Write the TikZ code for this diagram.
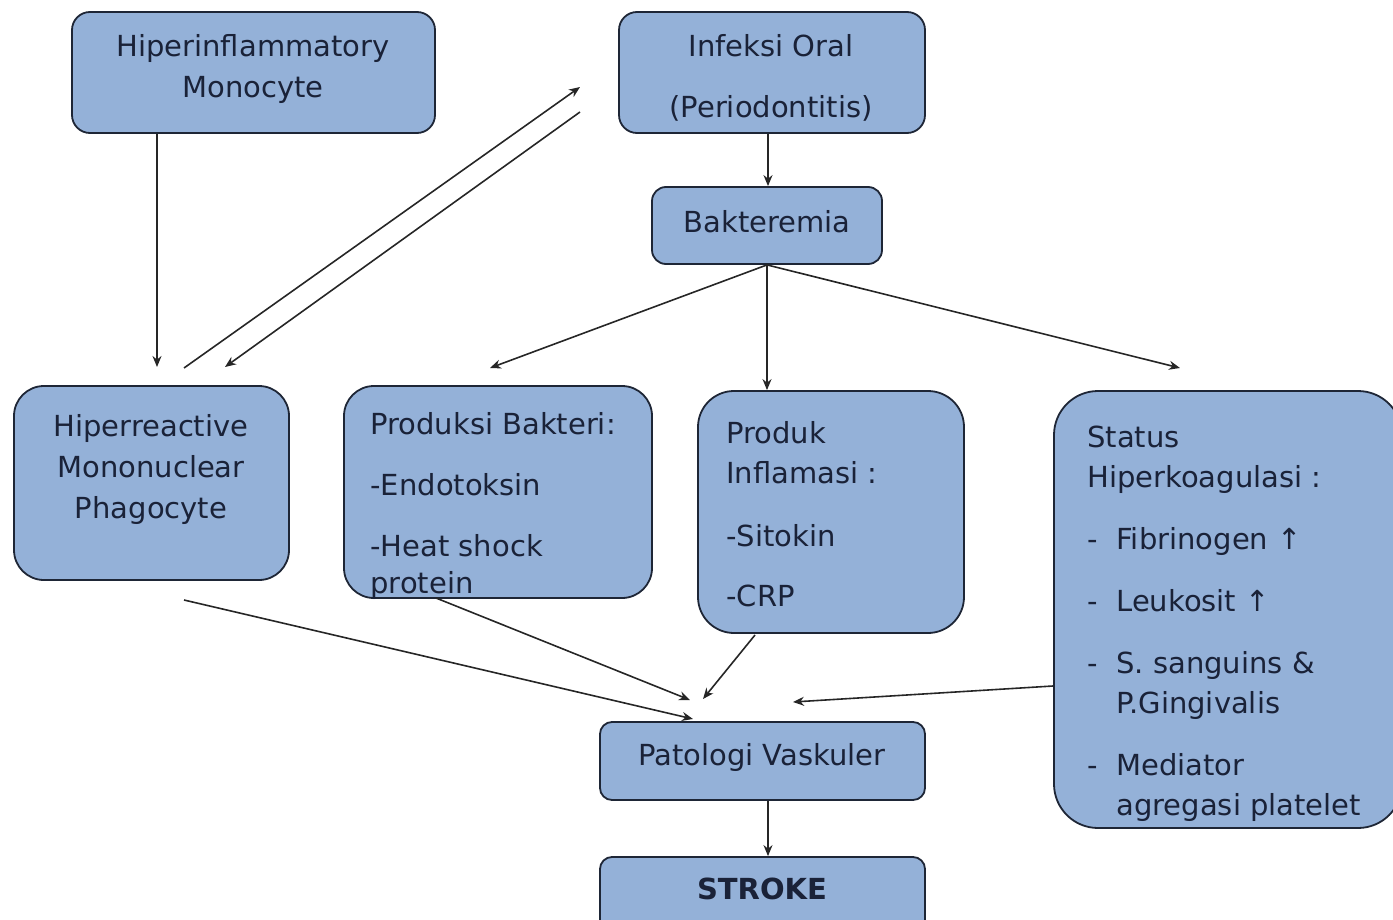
\documentclass[tikz,border=0pt]{standalone}
\usepackage{fontspec}
\setmainfont{DejaVu Sans}
\usepackage{xcolor}
\usepackage{tikz}
\usetikzlibrary{arrows.meta,positioning}
\definecolor{boxfill}{RGB}{148,177,216}
\definecolor{boxline}{RGB}{30,38,54}
\definecolor{textnavy}{RGB}{26,34,56}

\begin{document}
\begin{tikzpicture}[
    x=0.5pt, y=-0.5pt,%一个单位等于原图一个像素
    box/.style={
        % The shape:
        rectangle,
        rounded corners=8pt,
        inner sep=0pt,
        % The fill
        line width=0.9pt,
        draw=boxline,
        fill=boxfill},
    txt/.style={
        inner sep=0pt,
        text=textnavy,
        font=\fontsize{14.5}{20}\selectfont},
    arr/.style={
        line width=0.8pt,
        draw=black!85,
        -{Stealth[length=5.5pt,width=4.5pt]}}]
  \useasboundingbox (0,0) rectangle (1393,920);
  %绘制方框
  \node (hm) [box,minimum width=181.5pt,minimum height=60.5pt,rounded corners=9pt] at (253.5,72.5) {};
  \node (io) [box,minimum width=153pt,minimum height=60.5pt,rounded corners=9pt] at (772,72.5) {};
  \node (bk) [box,minimum width=115pt,minimum height=38.5pt,rounded corners=7pt] at (767,225.5) {};
  \node (hr) [box,minimum width=137.5pt,minimum height=97pt,rounded corners=15pt] at (151.5,483) {};
  \node (pb) [box,minimum width=154pt,minimum height=106pt,rounded corners=15pt] at (498,492) {};
  \node (pi) [box,minimum width=133pt,minimum height=121pt,rounded corners=18pt] at (831,512) {};
  \node (sh) [box,minimum width=174pt,minimum height=218.5pt,rounded corners=22pt] at (1228,609.5) {};
  \node (pv) [box,minimum width=162.5pt,minimum height=39pt,rounded corners=6pt] at (762.5,761) {};
  \node (st) [box,minimum width=162.5pt,minimum height=39pt,rounded corners=6pt] at (762.5,896) {};
  %方框里的文字
  \node (hm text) [txt,anchor=north,align=center] at (253,34) {Hiperinflammatory\\[0.5pt]Monocyte};
  \node (io text) [txt,anchor=north,align=center] at (771,34) {Infeksi Oral\\[10.5pt](Periodontitis)};
  \node (bk text) [txt,anchor=north] at (767,210) {Bakteremia};
  \node (hr text) [txt,anchor=north,align=center] at (151,414) {Hiperreactive\\[0.5pt]Mononuclear\\[0.5pt]Phagocyte};
  \node (pb text) [txt,anchor=north west,align=left] at (370,412)
    {Produksi Bakteri:\\[10.5pt]-Endotoksin\\[10.5pt]-Heat shock\\[-1.5pt]protein};
  \node (pi text) [txt,anchor=north west,align=left] at (726,421)
    {Produk\\Inflamasi :\\[11.5pt]-Sitokin\\[10pt]-CRP};
  \node (sh text) [txt,anchor=north west,align=left] at (1087,426)
    {Status\\Hiperkoagulasi :\\[11pt]
     \makebox[14.5pt][l]{-}Fibrinogen ↑\\[11pt]
     \makebox[14.5pt][l]{-}Leukosit ↑\\[11pt]
     \makebox[14.5pt][l]{-}S. sanguins \&\\\hspace*{14.5pt}P.Gingivalis\\[11pt]
     \makebox[14.5pt][l]{-}Mediator\\\hspace*{14.5pt}agregasi platelet};
  \node (pv text) [txt,anchor=north] at (762,743) {Patologi Vaskuler};
  \node (st text) [txt,anchor=north,font=\fontsize{14.5}{20}\selectfont\bfseries] at (762,878) {STROKE};
  %箭头的自由端点
  \coordinate (hr in) at (157,367);
  \coordinate (up start) at (184,368);
  \coordinate (up end) at (580,87);
  \coordinate (down start) at (580,112);
  \coordinate (down end) at (225,367);
  \coordinate (pb in) at (490,368);
  \coordinate (sh in) at (1180,368);
  \coordinate (hr out) at (184,600);
  \coordinate (pb out) at (436,598);
  \coordinate (pi out) at (755,635);
  \coordinate (sh out) at (1053,686);
  \coordinate (pv in a) at (693,719);
  \coordinate (pv in b) at (690,700);
  \coordinate (pv in c) at (703,699);
  \coordinate (pv in d) at (793,702);
  %绘制箭头
  \draw[arr] (hm.south -| hr in) -- (hr in);
  \draw[arr] (up start) -- (up end);
  \draw[arr] (down start) -- (down end);
  \draw[arr] (io.south -| 768,0) -- (bk.north -| 768,0);
  \draw[arr] (bk.south) -- (pb in);
  \draw[arr] (bk.south) -- (pi.north -| bk.south);
  \draw[arr] (bk.south) -- (sh in);
  \draw[arr] (hr out) -- (pv in a);
  \draw[arr] (pb out) -- (pv in b);
  \draw[arr] (pi out) -- (pv in c);
  \draw[arr] (sh out) -- (pv in d);
  \draw[arr] (pv.south -| 768,0) -- (st.north -| 768,0);
\end{tikzpicture}
\end{document}
